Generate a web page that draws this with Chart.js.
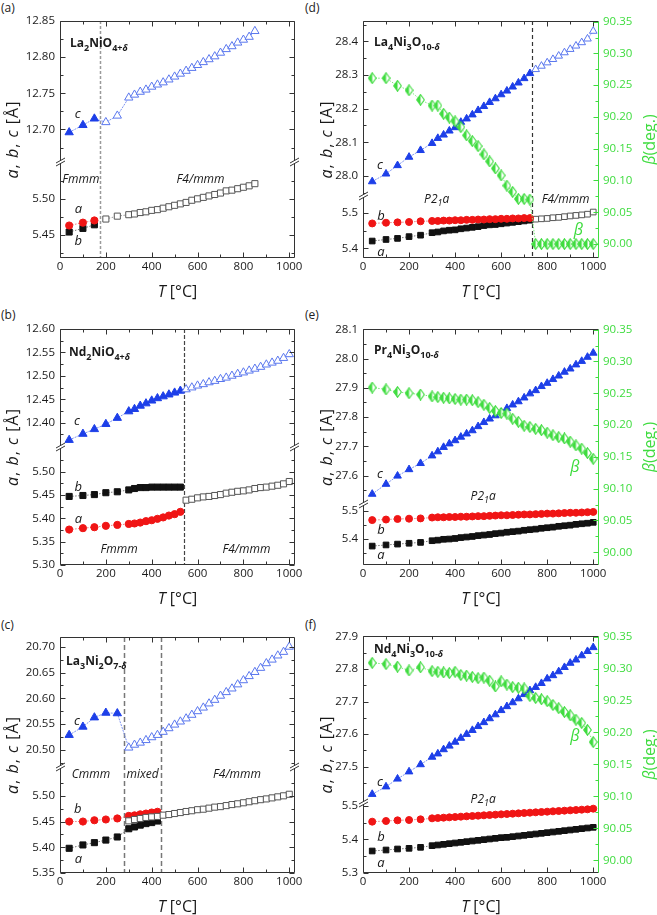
<!DOCTYPE html>
<html><head><meta charset="utf-8">
<script src="https://cdn.jsdelivr.net/npm/chart.js@4.4.1/dist/chart.umd.min.js"></script>
<style>
html,body{margin:0;padding:0;background:#fff;}
#wrap{position:relative;width:657px;height:915px;overflow:hidden;background:#fff;}
canvas{position:absolute;}
.pl{position:absolute;font:12px 'Open Sans',sans-serif;color:#222;line-height:14px;}
</style></head><body><div id="wrap">
<div class="pl" style="left:1px;top:1px">(a)</div>
<div class="pl" style="left:1px;top:308px">(b)</div>
<div class="pl" style="left:1px;top:618px">(c)</div>
<div class="pl" style="left:305px;top:1px">(d)</div>
<div class="pl" style="left:305px;top:308px">(e)</div>
<div class="pl" style="left:305px;top:618px">(f)</div>
</div>
<script>
// ================= DATA =================
const X_TICKS = [0, 200, 400, 600, 800, 1000];
const BETA_TICKS = [90.00, 90.05, 90.10, 90.15, 90.20, 90.25, 90.30, 90.35];

// (a) La2NiO4+d
const A_T_lo = [40, 100, 150];
const A_c_lo = [12.696, 12.706, 12.715];
const A_a_lo = [5.463, 5.467, 5.470];
const A_b_lo = [5.454, 5.459, 5.464];
const A_T_hi = [200, 250, 300, 325, 350, 375, 400, 425, 450, 475, 500, 525, 550, 575, 600, 625, 650, 675, 700, 725, 750, 775, 800, 825, 850];
const A_c_hi = [12.710, 12.719, 12.744, 12.748, 12.752, 12.755, 12.759, 12.762, 12.765, 12.769, 12.773, 12.777, 12.781, 12.785, 12.789, 12.793, 12.797, 12.801, 12.806, 12.811, 12.815, 12.820, 12.824, 12.828, 12.836];
const A_ab_hi = [5.472, 5.476, 5.478, 5.479, 5.481, 5.482, 5.484, 5.485, 5.487, 5.489, 5.491, 5.493, 5.495, 5.498, 5.500, 5.502, 5.504, 5.506, 5.508, 5.511, 5.512, 5.514, 5.516, 5.518, 5.521];
const A_phase = [175];
const A_top_ticks = [12.70, 12.75, 12.80, 12.85];
const A_bot_ticks = [5.45, 5.50];

// (b) Nd2NiO4+d
const B_T_lo = [40, 100, 150, 200, 250, 300, 325, 350, 375, 400, 425, 450, 475, 500, 525];
const B_c_lo = [12.363, 12.376, 12.386, 12.397, 12.410, 12.424, 12.429, 12.436, 12.441, 12.447, 12.452, 12.456, 12.460, 12.464, 12.468];
const B_b_lo = [5.447, 5.449, 5.451, 5.455, 5.457, 5.461, 5.464, 5.466, 5.466, 5.467, 5.467, 5.467, 5.467, 5.467, 5.467];
const B_a_lo = [5.376, 5.379, 5.381, 5.384, 5.386, 5.388, 5.389, 5.391, 5.394, 5.396, 5.399, 5.402, 5.406, 5.409, 5.414];
const B_T_hi = [550, 575, 600, 625, 650, 675, 700, 725, 750, 775, 800, 825, 850, 875, 900, 925, 950, 975, 1000];
const B_c_hi = [12.471, 12.475, 12.479, 12.482, 12.486, 12.489, 12.493, 12.496, 12.500, 12.504, 12.507, 12.511, 12.515, 12.519, 12.524, 12.528, 12.532, 12.538, 12.546];
const B_ab_hi = [5.439, 5.441, 5.444, 5.446, 5.447, 5.449, 5.451, 5.454, 5.456, 5.458, 5.459, 5.461, 5.464, 5.466, 5.467, 5.469, 5.471, 5.474, 5.479];
const B_phase = [540];
const B_top_ticks = [12.40, 12.45, 12.50, 12.55, 12.60];
const B_bot_ticks = [5.30, 5.35, 5.40, 5.45, 5.50];

// (c) La3Ni2O7-d
const C_T_lo = [40, 100, 150, 200, 250];
const C_c_lo = [20.529, 20.545, 20.563, 20.572, 20.571];
const C_T_ab = [40, 100, 150, 200, 250, 300, 325, 350, 375, 400, 425];
const C_b = [5.450, 5.450, 5.4525, 5.454, 5.456, 5.461, 5.462, 5.464, 5.4655, 5.4675, 5.469];
const C_a = [5.398, 5.4045, 5.409, 5.414, 5.420, 5.436, 5.4395, 5.443, 5.446, 5.448, 5.451];
const C_T_hi = [300, 325, 350, 375, 400, 425, 450, 475, 500, 525, 550, 575, 600, 625, 650, 675, 700, 725, 750, 775, 800, 825, 850, 875, 900, 925, 950, 975, 1000];
const C_c_hi = [20.5045, 20.510, 20.514, 20.519, 20.5245, 20.529, 20.535, 20.542, 20.549, 20.555, 20.561, 20.568, 20.575, 20.582, 20.590, 20.597, 20.605, 20.612, 20.619, 20.627, 20.635, 20.643, 20.651, 20.659, 20.668, 20.675, 20.683, 20.690, 20.700];
const C_ab_hi = [5.4513, 5.454, 5.456, 5.458, 5.459, 5.460, 5.4624, 5.4636, 5.4656, 5.4675, 5.4695, 5.471, 5.473, 5.474, 5.476, 5.478, 5.479, 5.481, 5.483, 5.4845, 5.4865, 5.4885, 5.4905, 5.4925, 5.494, 5.496, 5.498, 5.500, 5.503];
const C_phase = [277, 439];
const C_top_ticks = [20.50, 20.55, 20.60, 20.65, 20.70];
const C_bot_ticks = [5.35, 5.40, 5.45, 5.50];

// (d) La4Ni3O10-d
const D_T_lo = [40, 100, 150, 200, 250, 300, 325, 350, 375, 400, 425, 450, 475, 500, 525, 550, 575, 600, 625, 650, 675, 700, 725];
const D_c_lo = [27.983, 28.006, 28.031, 28.056, 28.076, 28.097, 28.112, 28.122, 28.134, 28.144, 28.160, 28.170, 28.182, 28.195, 28.207, 28.219, 28.230, 28.242, 28.253, 28.265, 28.277, 28.290, 28.305];
const D_b_lo = [5.470, 5.472, 5.473, 5.474, 5.476, 5.477, 5.477, 5.478, 5.478, 5.479, 5.479, 5.480, 5.480, 5.481, 5.481, 5.482, 5.482, 5.483, 5.483, 5.484, 5.484, 5.485, 5.485];
const D_a_lo = [5.4206, 5.425, 5.428, 5.433, 5.437, 5.444, 5.446, 5.449, 5.451, 5.452, 5.455, 5.457, 5.459, 5.461, 5.464, 5.466, 5.467, 5.469, 5.471, 5.473, 5.475, 5.477, 5.479];
const D_beta_lo = [90.261, 90.261, 90.249, 90.242, 90.227, 90.218, 90.218, 90.205, 90.199, 90.193, 90.184, 90.171, 90.162, 90.154, 90.141, 90.130, 90.119, 90.108, 90.092, 90.082, 90.071, 90.071, 90.070];
const D_T_hi = [750, 775, 800, 825, 850, 875, 900, 925, 950, 975, 1000];
const D_c_hi = [28.317, 28.327, 28.337, 28.347, 28.357, 28.367, 28.377, 28.387, 28.397, 28.408, 28.431];
const D_ab_hi = [5.482, 5.483, 5.484, 5.486, 5.487, 5.489, 5.491, 5.4925, 5.494, 5.496, 5.502];
const D_beta_hi = [90.000, 90.000, 90.000, 90.000, 90.000, 90.000, 90.000, 90.000, 90.000, 90.000, 90.000];
const D_phase = [734];
const D_top_ticks = [28.0, 28.1, 28.2, 28.3, 28.4];
const D_bot_ticks = [5.4, 5.5];

// (e) Pr4Ni3O10-d
const E_T = [40, 100, 150, 200, 250, 300, 325, 350, 375, 400, 425, 450, 475, 500, 525, 550, 575, 600, 625, 650, 675, 700, 725, 750, 775, 800, 825, 850, 875, 900, 925, 950, 975, 1000];
const E_c = [27.537, 27.571, 27.599, 27.621, 27.642, 27.668, 27.682, 27.697, 27.709, 27.720, 27.732, 27.743, 27.754, 27.768, 27.782, 27.794, 27.805, 27.816, 27.830, 27.842, 27.853, 27.866, 27.880, 27.891, 27.905, 27.916, 27.929, 27.941, 27.954, 27.965, 27.979, 27.991, 28.005, 28.019];
const E_beta = [90.259, 90.256, 90.252, 90.250, 90.248, 90.245, 90.244, 90.243, 90.242, 90.241, 90.240, 90.240, 90.239, 90.236, 90.232, 90.227, 90.222, 90.219, 90.218, 90.210, 90.205, 90.199, 90.197, 90.194, 90.192, 90.188, 90.184, 90.181, 90.179, 90.174, 90.168, 90.163, 90.156, 90.147];
const E_b = [5.467, 5.469, 5.471, 5.472, 5.473, 5.476, 5.477, 5.477, 5.478, 5.478, 5.479, 5.479, 5.480, 5.481, 5.481, 5.482, 5.483, 5.484, 5.484, 5.485, 5.486, 5.487, 5.487, 5.488, 5.489, 5.490, 5.490, 5.491, 5.492, 5.493, 5.493, 5.494, 5.495, 5.496];
const E_a = [5.375, 5.379, 5.382, 5.385, 5.388, 5.394, 5.396, 5.399, 5.400, 5.402, 5.405, 5.407, 5.409, 5.412, 5.414, 5.416, 5.419, 5.421, 5.424, 5.426, 5.428, 5.431, 5.433, 5.435, 5.438, 5.440, 5.442, 5.445, 5.447, 5.449, 5.452, 5.454, 5.456, 5.459];
const E_top_ticks = [27.6, 27.7, 27.8, 27.9, 28.0, 28.1];
const E_bot_ticks = [5.4, 5.5];

// (f) Nd4Ni3O10-d
const F_T = [40, 100, 150, 200, 250, 300, 325, 350, 375, 400, 425, 450, 475, 500, 525, 550, 575, 600, 625, 650, 675, 700, 725, 750, 775, 800, 825, 850, 875, 900, 925, 950, 975, 1000];
const F_c = [27.416, 27.439, 27.463, 27.485, 27.507, 27.530, 27.540, 27.553, 27.564, 27.576, 27.588, 27.600, 27.612, 27.624, 27.636, 27.648, 27.660, 27.673, 27.685, 27.697, 27.709, 27.722, 27.734, 27.744, 27.756, 27.770, 27.780, 27.792, 27.805, 27.818, 27.828, 27.841, 27.854, 27.866];
const F_beta = [90.309, 90.307, 90.303, 90.297, 90.302, 90.296, 90.295, 90.294, 90.293, 90.295, 90.290, 90.289, 90.287, 90.285, 90.286, 90.281, 90.272, 90.280, 90.275, 90.271, 90.270, 90.269, 90.257, 90.254, 90.252, 90.249, 90.243, 90.238, 90.232, 90.227, 90.220, 90.215, 90.204, 90.185];
const F_b = [5.453, 5.455, 5.457, 5.458, 5.460, 5.463, 5.464, 5.465, 5.466, 5.467, 5.468, 5.469, 5.470, 5.471, 5.472, 5.473, 5.474, 5.475, 5.476, 5.477, 5.478, 5.479, 5.480, 5.481, 5.482, 5.483, 5.484, 5.485, 5.486, 5.487, 5.488, 5.489, 5.490, 5.492];
const F_a = [5.365, 5.368, 5.371, 5.373, 5.376, 5.381, 5.383, 5.385, 5.387, 5.389, 5.391, 5.393, 5.395, 5.397, 5.399, 5.401, 5.403, 5.405, 5.406, 5.408, 5.410, 5.412, 5.414, 5.416, 5.418, 5.420, 5.422, 5.424, 5.426, 5.428, 5.430, 5.432, 5.434, 5.436];
const F_top_ticks = [27.5, 27.6, 27.7, 27.8, 27.9];
const F_bot_ticks = [5.3, 5.4, 5.5];

// ================= STYLE =================
const FAM = "'Open Sans'";
const BLUE = '#1d3fe8', BLUE_OPEN = '#5a77ee', BLUE_LINE = '#7f95f2';
const RED = '#f01515', RED_LINE = '#f07a7a';
const BLACK = '#111111', GRAY_LINE = '#777777', SQ_OPEN = '#555555';
const GREEN = '#3fdc3f', GREEN_LINE = '#7be87b';
const TXT = '#1a1a1a';

function diamondImg() {
  const c = document.createElement('canvas'); c.width = 9; c.height = 12;
  const g = c.getContext('2d');
  const path = () => { g.beginPath(); g.moveTo(4.5, 0.7); g.lineTo(8.3, 6); g.lineTo(4.5, 11.3); g.lineTo(0.7, 6); g.closePath(); };
  path(); g.fillStyle = '#ffffff'; g.fill();
  g.beginPath(); g.moveTo(4.5, 0.7); g.lineTo(0.7, 6); g.lineTo(4.5, 11.3); g.closePath(); g.fillStyle = GREEN; g.fill();
  path(); g.strokeStyle = GREEN; g.lineWidth = 1.1; g.stroke();
  return c;
}
const DIAMOND = diamondImg();

function pts(T, V) { return T.map((t, i) => ({x: t, y: V[i]})); }

function cSeries(T, V, nFilled, r) {
  return {data: pts(T, V), yAxisID: 'yTop', showLine: true, pointStyle: 'triangle', pointRadius: r,
    pointBackgroundColor: T.map((t, i) => i < nFilled ? BLUE : '#ffffff'),
    pointBorderColor: T.map((t, i) => i < nFilled ? BLUE : BLUE_OPEN),
    pointBorderWidth: 1, borderColor: BLUE_LINE, borderWidth: 1, borderDash: [2, 1]};
}
function redSeries(T, V, r) {
  return {data: pts(T, V), yAxisID: 'yBot', showLine: true, pointStyle: 'circle', pointRadius: r,
    pointBackgroundColor: RED, pointBorderColor: RED, pointBorderWidth: 1, borderColor: RED_LINE, borderWidth: 1, borderDash: [1.5, 1.5]};
}
function blackSeries(T, V, r) {
  return {data: pts(T, V), yAxisID: 'yBot', showLine: true, pointStyle: 'rect', pointRadius: r,
    pointBackgroundColor: BLACK, pointBorderColor: BLACK, pointBorderWidth: 1, borderColor: GRAY_LINE, borderWidth: 1, borderDash: [1.5, 1.5]};
}
function openSqSeries(T, V, r) {
  return {data: pts(T, V), yAxisID: 'yBot', showLine: true, pointStyle: 'rect', pointRadius: r,
    pointBackgroundColor: '#ffffff', pointBorderColor: SQ_OPEN, pointBorderWidth: 1, borderColor: '#999999', borderWidth: 1, borderDash: [1.5, 1.5]};
}
function betaSeries(T, V) {
  return {data: pts(T, V), yAxisID: 'yR', showLine: true, pointStyle: DIAMOND, pointRadius: 5,
    borderColor: GREEN_LINE, borderWidth: 1, borderDash: [1.5, 1.5]};
}

// text helpers
const I = (t, s) => ({t, f: `italic 400 ${s}px ${FAM}`, dy: 0});
const N = (t, s) => ({t, f: `normal 400 ${s}px ${FAM}`, dy: 0});
const B = (t, s) => ({t, f: `normal 700 ${s}px ${FAM}`, dy: 0});
const Bs = (t, s) => ({t, f: `normal 700 ${s}px ${FAM}`, dy: 4});
const BIs = (t, s) => ({t, f: `italic 700 ${s}px ${FAM}`, dy: 4});
const Is = (t, s) => ({t, f: `italic 400 ${s}px ${FAM}`, dy: 4});

function drawParts(ctx, x, y, parts, align, color) {
  ctx.textBaseline = 'middle'; ctx.textAlign = 'left'; ctx.fillStyle = color;
  let w = 0;
  parts.forEach(p => { ctx.font = p.f; p.w = ctx.measureText(p.t).width; w += p.w; });
  let cx = align === 'center' ? x - w / 2 : (align === 'right' ? x - w : x);
  parts.forEach(p => { ctx.font = p.f; ctx.fillText(p.t, cx, y + p.dy); cx += p.w; });
}

function minorsOf(majors, lo, hi) {
  const st = majors[1] - majors[0];
  const out = [];
  const cand = [majors[0] - st / 2].concat(majors.map(v => v + st / 2));
  cand.forEach(v => { if (v >= lo && v <= hi) out.push(v); });
  return out;
}

const deco = {
  id: 'deco',
  beforeDatasetsDraw(chart, args, o) {
    const {ctx, chartArea: ca, scales} = chart;
    (o.vlines || []).forEach(v => {
      const x = Math.round(scales.x.getPixelForValue(v)) + 0.5;
      ctx.save(); ctx.strokeStyle = o.vColor; ctx.lineWidth = o.vWidth; ctx.setLineDash(o.vDash);
      ctx.beginPath(); ctx.moveTo(x, ca.top); ctx.lineTo(x, ca.bottom); ctx.stroke(); ctx.restore();
    });
  },
  afterDatasetsDraw(chart, args, o) {
    const {ctx, chartArea: ca, scales} = chart;
    ctx.save();
    const L = Math.round(ca.left) + 0.5, R = Math.round(ca.right) - 0.5, T = Math.round(ca.top) + 0.5, Bt = Math.round(ca.bottom) - 0.5;
    ctx.lineWidth = 1; ctx.strokeStyle = '#333333'; ctx.setLineDash([]);
    ctx.beginPath(); ctx.moveTo(R, T); ctx.lineTo(L, T); ctx.lineTo(L, Bt); ctx.lineTo(R, Bt);
    if (!o.hasRight) ctx.lineTo(R, T);
    ctx.stroke();
    if (o.hasRight) { ctx.strokeStyle = GREEN; ctx.beginPath(); ctx.moveTo(R, T); ctx.lineTo(R, Bt); ctx.stroke(); }
    // x ticks
    const xs = scales.x;
    ctx.strokeStyle = '#333333';
    const xMaj = X_TICKS, xMin = minorsOf(X_TICKS, xs.min, xs.max);
    ctx.beginPath();
    xMaj.forEach(v => { const p = Math.round(xs.getPixelForValue(v)) + 0.5; ctx.moveTo(p, Bt); ctx.lineTo(p, Bt - 5); ctx.moveTo(p, T); ctx.lineTo(p, T + 5); });
    xMin.forEach(v => { const p = Math.round(xs.getPixelForValue(v)) + 0.5; ctx.moveTo(p, Bt); ctx.lineTo(p, Bt - 3); ctx.moveTo(p, T); ctx.lineTo(p, T + 3); });
    ctx.stroke();
    // y ticks
    [['yTop', o.topTicks], ['yBot', o.botTicks]].forEach(([id, maj]) => {
      const s = scales[id];
      const mn = minorsOf(maj, s.min, s.max);
      ctx.beginPath();
      const tick = (v, len) => {
        const p = Math.round(s.getPixelForValue(v)) + 0.5;
        if (p < s.top - 1 || p > s.bottom + 1) return;
        ctx.moveTo(L, p); ctx.lineTo(L + len, p);
        if (!o.hasRight) { ctx.moveTo(R, p); ctx.lineTo(R - len, p); }
      };
      maj.forEach(v => tick(v, 5)); mn.forEach(v => tick(v, 3));
      ctx.stroke();
    });
    if (o.hasRight) {
      const s = scales.yR;
      ctx.strokeStyle = GREEN; ctx.beginPath();
      BETA_TICKS.forEach(v => { const p = Math.round(s.getPixelForValue(v)) + 0.5; ctx.moveTo(R, p); ctx.lineTo(R - 5, p); });
      minorsOf(BETA_TICKS, s.min, s.max).forEach(v => { const p = Math.round(s.getPixelForValue(v)) + 0.5; ctx.moveTo(R, p); ctx.lineTo(R - 3, p); });
      ctx.stroke();
    }
    // break marks
    const by = scales.yTop.bottom;
    const brk = (x, col) => {
      ctx.fillStyle = '#ffffff';
      ctx.beginPath(); ctx.moveTo(x - 4, by + 0.5); ctx.lineTo(x + 4, by - 3.5); ctx.lineTo(x + 4, by - 0.5); ctx.lineTo(x - 4, by + 3.5); ctx.closePath(); ctx.fill();
      ctx.strokeStyle = col; ctx.beginPath();
      ctx.moveTo(x - 4.5, by + 1); ctx.lineTo(x + 4.5, by - 4);
      ctx.moveTo(x - 4.5, by + 4); ctx.lineTo(x + 4.5, by - 1);
      ctx.stroke();
    };
    brk(L, '#333333');
    if (!o.hasRight) brk(R, '#333333');
    // annotations
    (o.notes || []).forEach(n => {
      const x = xs.getPixelForValue(n.T), y = scales[n.ax].getPixelForValue(n.v);
      drawParts(ctx, x, y, n.parts, 'center', n.color || TXT);
    });
    drawParts(ctx, ca.left + o.name.dx, ca.top + o.name.dy, o.name.parts, 'left', TXT);
    // axis titles
    drawParts(ctx, (ca.left + ca.right) / 2, ca.bottom + 34, [I('T', 16), N(' [°C]', 16)], 'center', TXT);
    ctx.save(); ctx.translate(o.yTitleX, (ca.top + ca.bottom) / 2); ctx.rotate(-Math.PI / 2);
    ctx.letterSpacing = '1px';
    drawParts(ctx, 0, 0, [I('a', 16), N(', ', 16), I('b', 16), N(', ', 16), I('c', 16), N(' [Å]', 16)], 'center', TXT);
    ctx.restore();
    if (o.hasRight) {
      ctx.save(); ctx.translate(o.rTitleX, (ca.top + ca.bottom) / 2); ctx.rotate(-Math.PI / 2);
      drawParts(ctx, 0, 0, [I('β', 16), N('(deg.)', 16)], 'center', GREEN);
      ctx.restore();
    }
    ctx.restore();
  }
};

function ticksFrom(list) { return s => { s.ticks = list.map(v => ({value: v})); }; }

function makePanel(p) {
  const cv = document.createElement('canvas');
  cv.width = p.cw; cv.height = p.ch;
  cv.style.left = p.cx + 'px'; cv.style.top = p.cy + 'px';
  cv.style.width = p.cw + 'px'; cv.style.height = p.ch + 'px';
  document.getElementById('wrap').appendChild(cv);
  const hasRight = !!p.right;
  const leftW = p.fl - p.cx;
  const padR = hasRight ? 0 : (p.cx + p.cw - p.fr);
  const rightW = p.cx + p.cw - p.fr;
  const xH = p.cy + p.ch - p.fb;
  const tickFont = {family: FAM, size: 11.5};
  const yCommon = (tl, dec, color) => ({
    type: 'linear', grid: {display: false, drawTicks: false}, border: {display: false},
    ticks: {padding: 5, font: tickFont, color: color, autoSkip: false, callback: v => v.toFixed(dec)},
    afterBuildTicks: ticksFrom(tl)
  });
  const scales = {
    x: {type: 'linear', position: 'bottom', min: 0, max: 1025, grid: {display: false, drawTicks: false}, border: {display: false},
      ticks: {padding: 2, font: tickFont, color: TXT, autoSkip: false, maxRotation: 0, callback: v => String(v)},
      afterBuildTicks: ticksFrom(X_TICKS), afterFit: s => { s.height = xH; }},
    yTop: Object.assign(yCommon(p.top.ticks, p.top.dec, TXT), {position: 'left', stack: 'L', stackWeight: p.brk - p.ft, weight: 2,
      min: p.top.min, max: p.top.max, afterFit: s => { s.width = leftW; }}),
    yBot: Object.assign(yCommon(p.bot.ticks, p.bot.dec, TXT), {position: 'left', stack: 'L', stackWeight: p.fb - p.brk, weight: 1,
      min: p.bot.min, max: p.bot.max, afterFit: s => { s.width = leftW; }})
  };
  if (hasRight) {
    scales.yR = Object.assign(yCommon(BETA_TICKS, 2, GREEN), {position: 'right', min: p.right.min, max: p.right.max,
      afterFit: s => { s.width = rightW; }});
    scales.yR.ticks.padding = 4;
  }
  new Chart(cv.getContext('2d'), {
    type: 'scatter',
    data: {datasets: p.datasets},
    options: {
      responsive: false, animation: false, events: [],
      layout: {padding: {left: 0, right: padR, top: p.ft - p.cy, bottom: 0}},
      plugins: {legend: {display: false}, tooltip: {enabled: false},
        deco: {hasRight, vlines: p.vlines, vColor: p.vColor, vWidth: p.vWidth, vDash: p.vDash,
          topTicks: p.top.ticks, botTicks: p.bot.ticks, notes: p.notes, name: p.name,
          yTitleX: p.yTitleX, rTitleX: p.rTitleX}},
      scales
    },
    plugins: [deco]
  });
}

const LT = 4.8, LC = 3.6, LS = 4.3;   // left column marker radii
const RT = 4.4, RC = 3.5, RS = 4.0;   // right column marker radii
const LB = 12;                        // italic label size
const lbl = (T, v, ax, parts, color) => ({T, v, ax, parts, color});

// (a)
makePanel({cx: 0, cy: 0, cw: 320, ch: 305, fl: 60, fr: 295, ft: 21, fb: 258, brk: 162,
  top: {min: 12.655, max: 12.85, ticks: A_top_ticks, dec: 2},
  bot: {min: 5.418, max: 5.551, ticks: A_bot_ticks, dec: 2},
  datasets: [cSeries(A_T_lo.concat(A_T_hi), A_c_lo.concat(A_c_hi), A_T_lo.length, LT),
    redSeries(A_T_lo, A_a_lo, LC), blackSeries(A_T_lo, A_b_lo, LS), openSqSeries(A_T_hi, A_ab_hi, LS)],
  vlines: A_phase, vColor: '#9a9a9a', vWidth: 1.5, vDash: [3, 2],
  notes: [lbl(77, 12.721, 'yTop', [I('c', 13)]), lbl(80, 5.485, 'yBot', [I('a', 13)]), lbl(80, 5.441, 'yBot', [I('b', 13)]),
    lbl(91, 5.526, 'yBot', [I('Fmmm', LB)]), lbl(613, 5.526, 'yBot', [I('F4/mmm', LB)])],
  name: {dx: 10, dy: 23, parts: [B('La', 12), Bs('2', 9), B('NiO', 12), Bs('4+', 9), BIs('δ', 9)]},
  yTitleX: 13});

// (b)
makePanel({cx: 0, cy: 300, cw: 320, ch: 312, fl: 60, fr: 295, ft: 329, fb: 565, brk: 447,
  top: {min: 12.348, max: 12.60, ticks: B_top_ticks, dec: 2},
  bot: {min: 5.30, max: 5.553, ticks: B_bot_ticks, dec: 2},
  datasets: [cSeries(B_T_lo.concat(B_T_hi), B_c_lo.concat(B_c_hi), B_T_lo.length, LT),
    blackSeries(B_T_lo, B_b_lo, LS), redSeries(B_T_lo, B_a_lo, LC), openSqSeries(B_T_hi, B_ab_hi, LS)],
  vlines: B_phase, vColor: '#444444', vWidth: 1.2, vDash: [4, 2],
  notes: [lbl(74, 12.402, 'yTop', [I('c', 13)]), lbl(80, 5.467, 'yBot', [I('b', 13)]), lbl(80, 5.397, 'yBot', [I('a', 13)]),
    lbl(258, 5.334, 'yBot', [I('Fmmm', LB)]), lbl(813, 5.334, 'yBot', [I('F4/mmm', LB)])],
  name: {dx: 9, dy: 24, parts: [B('Nd', 12), Bs('2', 9), B('NiO', 12), Bs('4+', 9), BIs('δ', 9)]},
  yTitleX: 13});

// (c)
makePanel({cx: 0, cy: 605, cw: 320, ch: 310, fl: 60, fr: 295, ft: 637, fb: 873, brk: 767,
  top: {min: 20.467, max: 20.719, ticks: C_top_ticks, dec: 2},
  bot: {min: 5.35, max: 5.556, ticks: C_bot_ticks, dec: 2},
  datasets: [cSeries(C_T_lo.concat(C_T_hi), C_c_lo.concat(C_c_hi), C_T_lo.length, LT),
    openSqSeries(C_T_hi, C_ab_hi, LS), redSeries(C_T_ab, C_b, LC), blackSeries(C_T_ab, C_a, LS)],
  vlines: C_phase, vColor: '#777777', vWidth: 1.5, vDash: [5, 3],
  notes: [lbl(74, 20.556, 'yTop', [I('c', 13)]), lbl(135, 5.542, 'yBot', [I('Cmmm', LB)]), lbl(360, 5.542, 'yBot', [I('mixed', LB)]),
    lbl(772, 5.542, 'yBot', [I('F4/mmm', LB)]), lbl(77, 5.474, 'yBot', [I('b', 13)]), lbl(80, 5.377, 'yBot', [I('a', 13)])],
  name: {dx: 6, dy: 25, parts: [B('La', 12), Bs('3', 9), B('Ni', 12), Bs('2', 9), B('O', 12), Bs('7-', 9), BIs('δ', 9)]},
  yTitleX: 13});

// (d)
makePanel({cx: 320, cy: 0, cw: 337, ch: 305, fl: 363, fr: 599, ft: 21, fb: 258, brk: 196,
  top: {min: 27.94, max: 28.461, ticks: D_top_ticks, dec: 1},
  bot: {min: 5.373, max: 5.547, ticks: D_bot_ticks, dec: 1},
  right: {min: 89.978, max: 90.351},
  datasets: [betaSeries(D_T_lo.concat(D_T_hi), D_beta_lo.concat(D_beta_hi)),
    cSeries(D_T_lo.concat(D_T_hi), D_c_lo.concat(D_c_hi), D_T_lo.length, RT),
    redSeries(D_T_lo, D_b_lo, RC), blackSeries(D_T_lo, D_a_lo, RS), openSqSeries(D_T_hi, D_ab_hi, RS)],
  vlines: D_phase, vColor: '#333333', vWidth: 1.2, vDash: [4, 3],
  notes: [lbl(74, 28.03, 'yTop', [I('c', 13)]), lbl(320, 5.536, 'yBot', [I('P2', LB), Is('1', 9), I('a', LB)]),
    lbl(880, 5.536, 'yBot', [I('F4/mmm', LB)]), lbl(78, 5.490, 'yBot', [I('b', 13)]), lbl(78, 5.388, 'yBot', [I('a', 13)]),
    lbl(935, 90.022, 'yR', [I('β', 16)], GREEN)],
  name: {dx: 11, dy: 22, parts: [B('La', 12), Bs('4', 9), B('Ni', 12), Bs('3', 9), B('O', 12), Bs('10-', 9), BIs('δ', 9)]},
  yTitleX: 7, rTitleX: 330});

// (e)
makePanel({cx: 320, cy: 300, cw: 337, ch: 312, fl: 363, fr: 599, ft: 329, fb: 565, brk: 504,
  top: {min: 27.503, max: 28.101, ticks: E_top_ticks, dec: 1},
  bot: {min: 5.308, max: 5.524, ticks: E_bot_ticks, dec: 1},
  right: {min: 89.98, max: 90.351},
  datasets: [betaSeries(E_T, E_beta), cSeries(E_T, E_c, E_T.length, RT), redSeries(E_T, E_b, RC), blackSeries(E_T, E_a, RS)],
  vlines: [], vColor: '#333333', vWidth: 1, vDash: [4, 3],
  notes: [lbl(74, 27.603, 'yTop', [I('c', 13)]), lbl(522, 27.53, 'yTop', [I('P2', LB), Is('1', 9), I('a', LB)]),
    lbl(78, 5.432, 'yBot', [I('b', 13)]), lbl(78, 5.344, 'yBot', [I('a', 13)]),
    lbl(920, 90.134, 'yR', [I('β', 16)], GREEN)],
  name: {dx: 11, dy: 22, parts: [B('Pr', 12), Bs('4', 9), B('Ni', 12), Bs('3', 9), B('O', 12), Bs('10-', 9), BIs('δ', 9)]},
  yTitleX: 7, rTitleX: 330});

// (f)
makePanel({cx: 320, cy: 605, cw: 337, ch: 310, fl: 363, fr: 599, ft: 636, fb: 873, brk: 803,
  top: {min: 27.389, max: 27.901, ticks: F_top_ticks, dec: 1},
  bot: {min: 5.299, max: 5.509, ticks: F_bot_ticks, dec: 1},
  right: {min: 89.98, max: 90.351},
  datasets: [betaSeries(F_T, F_beta), cSeries(F_T, F_c, F_T.length, RT), redSeries(F_T, F_b, RC), blackSeries(F_T, F_a, RS)],
  vlines: [], vColor: '#333333', vWidth: 1, vDash: [4, 3],
  notes: [lbl(74, 27.451, 'yTop', [I('c', 13)]), lbl(522, 27.40, 'yTop', [I('P2', LB), Is('1', 9), I('a', LB)]),
    lbl(78, 5.406, 'yBot', [I('b', 13)]), lbl(78, 5.328, 'yBot', [I('a', 13)]),
    lbl(920, 90.193, 'yR', [I('β', 16)], GREEN)],
  name: {dx: 11, dy: 14, parts: [B('Nd', 12), Bs('4', 9), B('Ni', 12), Bs('3', 9), B('O', 12), Bs('10-', 9), BIs('δ', 9)]},
  yTitleX: 7, rTitleX: 330});
</script></body></html>
